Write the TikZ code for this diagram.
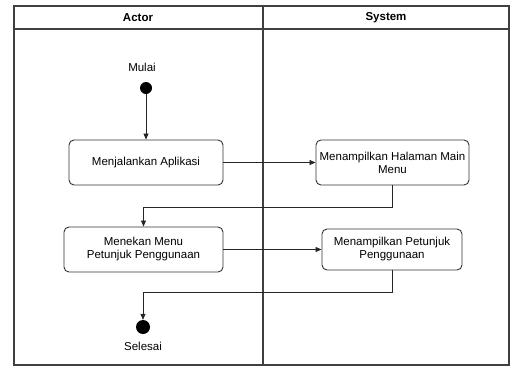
\documentclass[tikz,border=0pt]{standalone}
\usepackage{fontspec}
\setmainfont{Liberation Sans}
\usetikzlibrary{arrows.meta}
\begin{document}
\begin{tikzpicture}[x=1pt,y=-1pt,
  lane/.style={draw=black!75,line width=1.6pt},
  act/.style={draw=black!80,line width=0.9pt,rounded corners=5pt,fill=white,
    align=center,inner sep=0pt,font=\fontsize{11.5}{13}\selectfont},
  lbl/.style={font=\fontsize{11.5}{13}\selectfont,inner sep=0pt},
  hdr/.style={font=\bfseries\fontsize{11.5}{13}\selectfont,inner sep=0pt},
  flow/.style={draw=black!85,line width=0.8pt,-{Triangle[length=6pt,width=5pt]}},
  dot/.style={circle,fill=black,inner sep=0pt}]
\useasboundingbox (0,0) rectangle (510,367);
% swimlane frame
\draw[lane] (14,6) rectangle (509,365);
\draw[lane] (14,29) -- (509,29);
\draw[lane] (263,6) -- (263,365);
\node[hdr] (hA) at (138,18) {Actor};
\node[hdr] (hS) at (386,18) {System};
% start / end
\node[lbl] (tmulai) at (142,67) {Mulai};
\node[dot,minimum size=12pt] (start) at (146,88) {};
\node[dot,minimum size=14pt] (stop) at (143,327) {};
\node[lbl] (tselesai) at (143,346) {Selesai};
% actions
\node[act,minimum width=154pt,minimum height=45pt] (a1) at (146,162.5) {Menjalankan Aplikasi};
\node[act,minimum width=153pt,minimum height=45pt] (a2) at (392.5,162.5) {Menampilkan Halaman Main\\Menu};
\node[act,minimum width=159pt,minimum height=45pt] (a3) at (143.5,249.5) {Menekan Menu\\Petunjuk Penggunaan};
\node[act,minimum width=140pt,minimum height=41pt] (a4) at (392,249.5) {Menampilkan Petunjuk\\Penggunaan};
% flows
\draw[flow] (start) -- (a1);
\draw[flow] (a1) -- (a2);
\draw[flow] (a2.south) -- ++(0,22) -| (a3.north);
\draw[flow] (a3) -- (a4);
\draw[flow] (a4.south) -- ++(0,22) -| (stop.north);
\end{tikzpicture}
\end{document}
